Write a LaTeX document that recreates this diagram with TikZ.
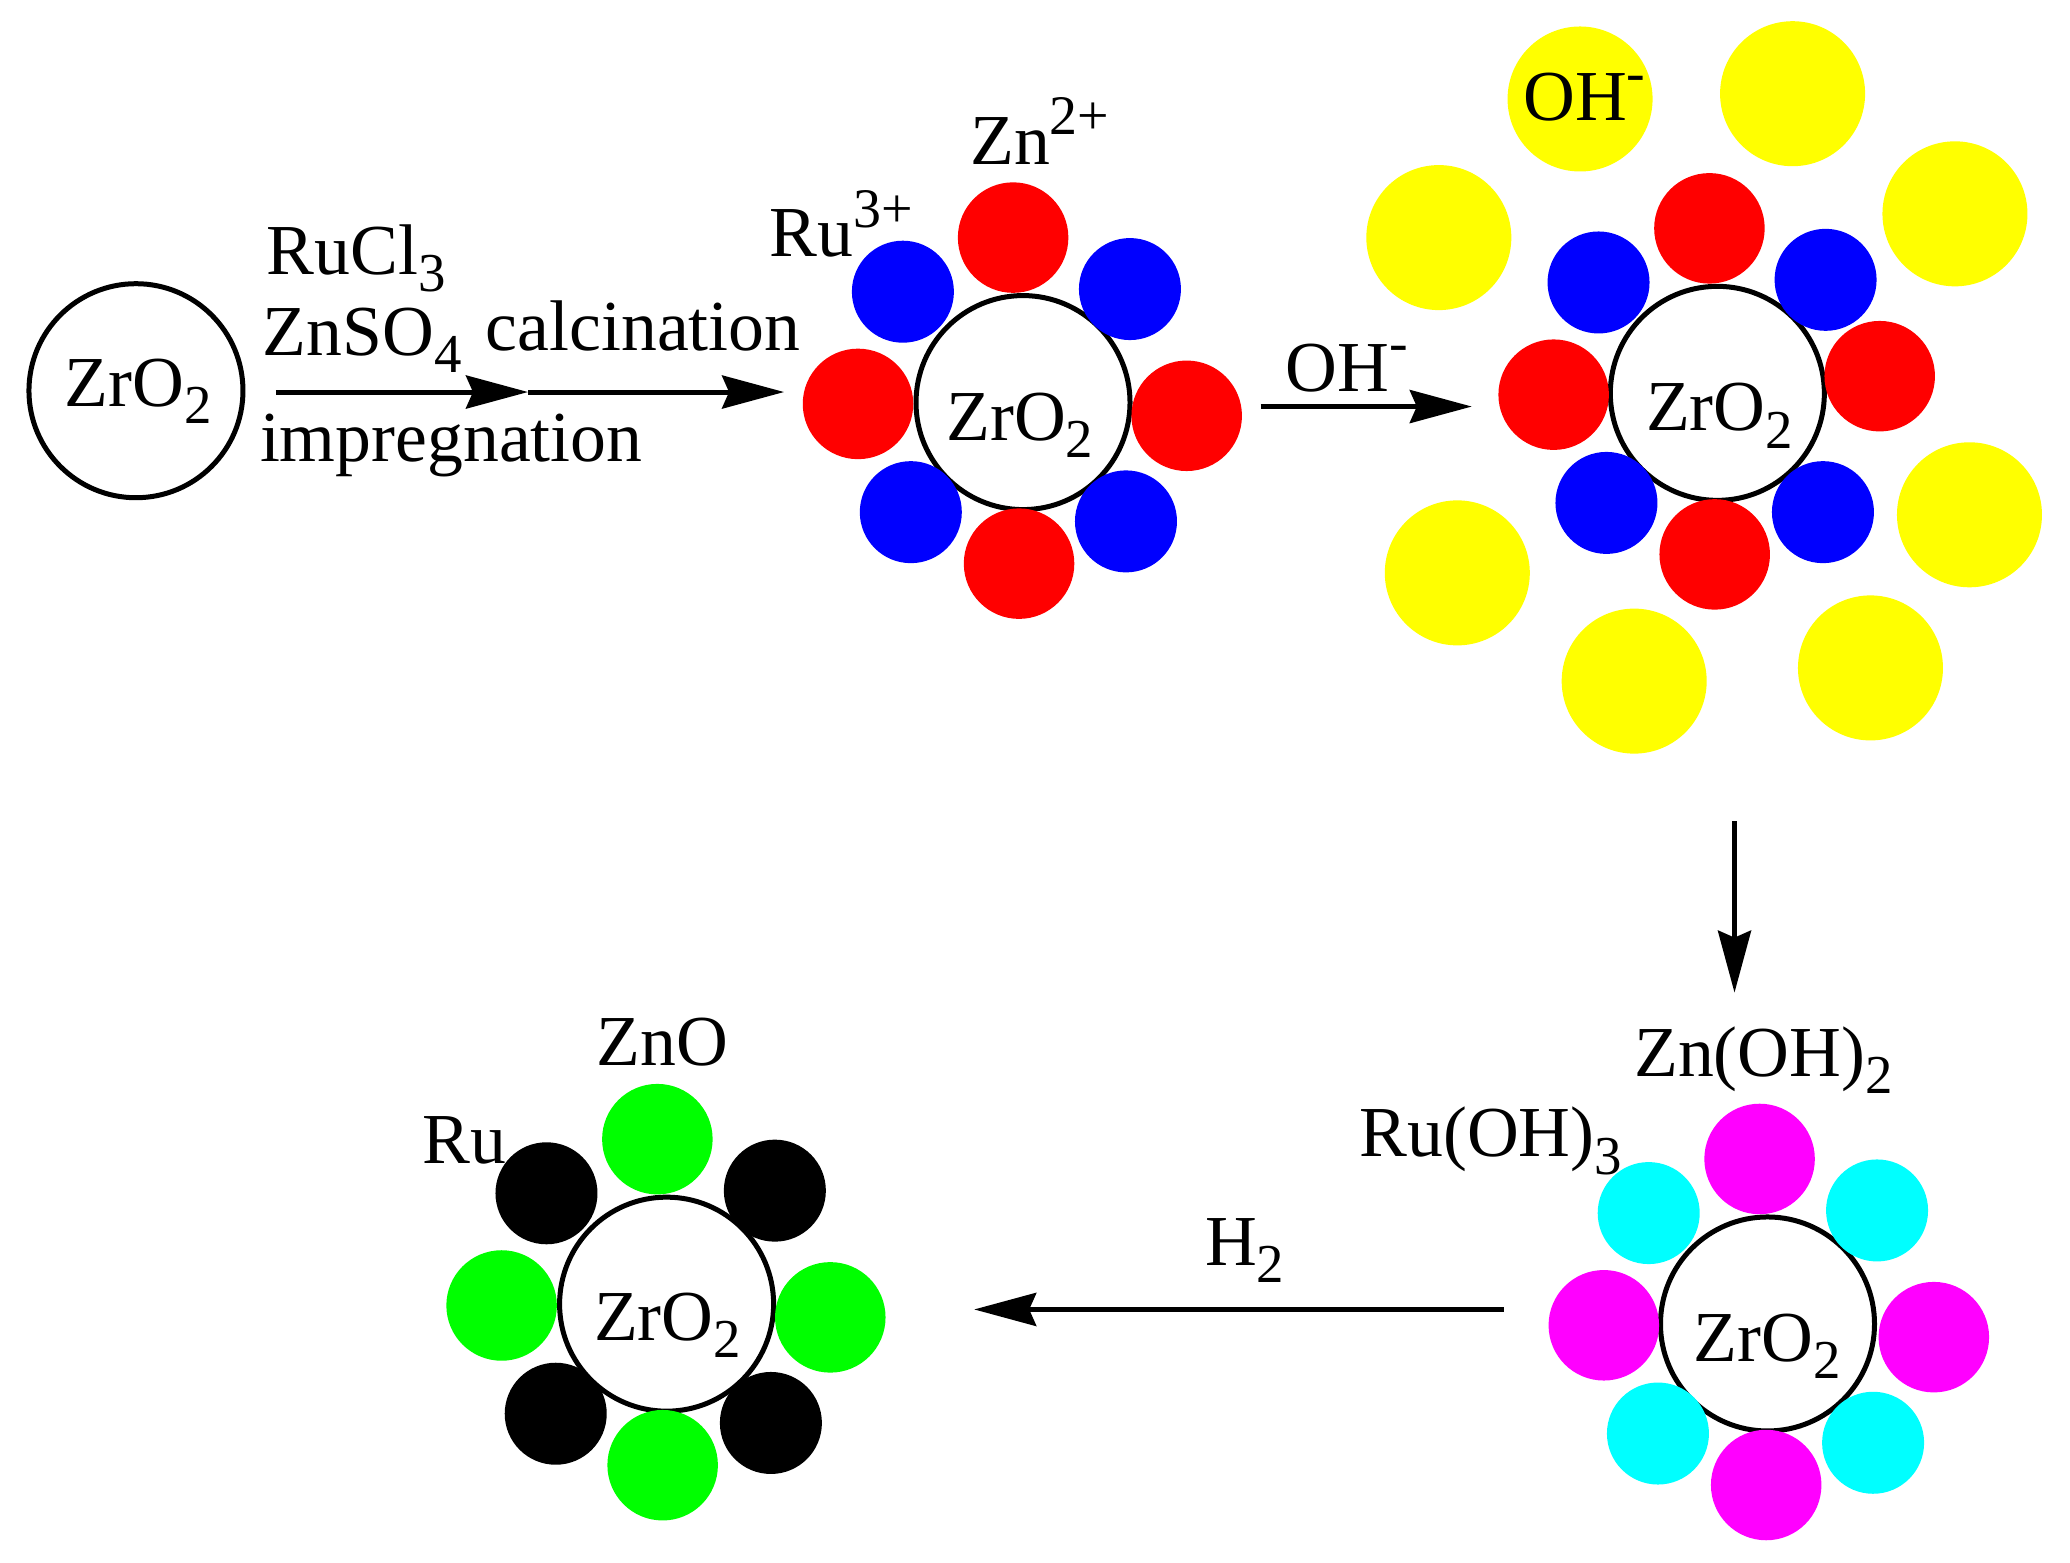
\documentclass[tikz,border=0pt]{standalone}
\usepackage{fontspec}
\setmainfont{Liberation Serif}
\usetikzlibrary{arrows.meta}
\newcommand{\sbsc}[1]{\raisebox{-.24em}{\fontsize{15.6pt}{16pt}\selectfont #1}}
\newcommand{\spsc}[1]{\raisebox{.41em}{\fontsize{15.9pt}{16pt}\selectfont #1}}
\newcommand{\zro}{ZrO\sbsc{2}}
\definecolor{magenta}{RGB}{255,0,255}
\definecolor{cyan}{RGB}{0,255,255}
\definecolor{green}{RGB}{0,255,0}
\definecolor{yellow}{RGB}{255,255,0}
\tikzset{
  core/.style={circle,draw=black,line width=.5mm,fill=white,minimum size=2.14cm,inner sep=0pt},
  bead/.style={circle,inner sep=0pt,minimum size=1.105cm},
  smallbead/.style={circle,inner sep=0pt,minimum size=1.02cm},
  redb/.style={bead,fill=red},
  blueb/.style={smallbead,fill=blue},
  yell/.style={circle,inner sep=0pt,minimum size=1.45cm,fill=yellow},
  magb/.style={bead,fill=magenta},
  cyab/.style={smallbead,fill=cyan},
  greb/.style={bead,fill=green},
  blab/.style={smallbead,fill=black},
  txt/.style={anchor=base west,inner sep=0pt,outer sep=0pt,font=\fontsize{20.4pt}{24pt}\selectfont},
  arr/.style={line width=.5mm,-{Stealth[length=6.2mm,width=3.3mm,inset=.7mm]}}
}
\begin{document}
\begin{tikzpicture}[x=0.0132cm,y=-0.0132cm]
\useasboundingbox (0,0) rectangle (1568.18,1184.09);
% cores
\node[core] (c1) at (103,296) {};
\node[core] (c2) at (775,305) {};
\node[core] (c3) at (1301,298) {};
\node[core] (c4) at (1339,1003) {};
\node[core] (c5) at (505,988) {};
% group 2
\node[redb] (r2a) at (767.5,180) {};
\node[redb] (r2b) at (650,306) {};
\node[redb] (r2c) at (899,315) {};
\node[redb] (r2d) at (772,427) {};
\node[blueb] (b2a) at (684,221) {};
\node[blueb] (b2b) at (856,219) {};
\node[blueb] (b2c) at (690,388) {};
\node[blueb] (b2d) at (853,395) {};
% group 3
\node[redb] (r3a) at (1295,173) {};
\node[redb] (r3b) at (1177,299) {};
\node[redb] (r3c) at (1424,285) {};
\node[redb] (r3d) at (1299,420) {};
\node[blueb] (b3a) at (1211,214) {};
\node[blueb] (b3b) at (1383,212) {};
\node[blueb] (b3c) at (1217,381) {};
\node[blueb] (b3d) at (1381,388) {};
\node[yell] (y1) at (1197,75) {};
\node[yell] (y2) at (1358,71) {};
\node[yell] (y3) at (1481,162) {};
\node[yell] (y4) at (1090,180) {};
\node[yell] (y5) at (1492,390) {};
\node[yell] (y6) at (1104,434) {};
\node[yell] (y7) at (1238,516) {};
\node[yell] (y8) at (1417,506) {};
% group 4
\node[magb] (m1) at (1333,878) {};
\node[magb] (m2) at (1215,1004) {};
\node[magb] (m3) at (1465,1013) {};
\node[magb] (m4) at (1338,1125) {};
\node[cyab] (k1) at (1249,919) {};
\node[cyab] (k2) at (1422,917) {};
\node[cyab] (k3) at (1256,1086) {};
\node[cyab] (k4) at (1419,1093) {};
% group 5
\node[greb] (g1) at (498,863) {};
\node[greb] (g2) at (380,989) {};
\node[greb] (g3) at (629,998) {};
\node[greb] (g4) at (502,1110) {};
\node[blab] (n1) at (414,904) {};
\node[blab] (n2) at (587,902) {};
\node[blab] (n3) at (421,1071) {};
\node[blab] (n4) at (584,1078) {};
% text
\node[txt] (t1) at (49,308) {\zro};
\node[txt] (t2) at (717,333.5) {\zro};
\node[txt] (t3) at (1247,326.5) {\zro};
\node[txt] (t4) at (1283,1031.5) {\zro};
\node[txt] (t5) at (450,1015.5) {\zro};
\node[txt] (t6) at (202,208) {RuCl\sbsc{3}};
\node[txt] (t7) at (199,269.5) {ZnSO\sbsc{4}};
\node[txt] (t8) at (368,265.5) {calcination};
\node[txt] (t9) at (197,349.5) {impregnation};
\node[txt] (t10) at (583,194.5) {Ru\spsc{3+}};
\node[txt] (t11) at (735,124.5) {Zn\spsc{2+}};
\node[txt] (t12) at (1154,91.5) {OH\spsc{-}};
\node[txt] (t13) at (974,296.5) {OH\spsc{-}};
\node[txt] (t14) at (1238,815.5) {Zn(OH)\sbsc{2}};
\node[txt] (t15) at (1030,876.5) {Ru(OH)\sbsc{3}};
\node[txt] (t16) at (913,958.5) {H\sbsc{2}};
\node[txt] (t17) at (452,807.5) {ZnO};
\node[txt] (t18) at (320,881.5) {Ru};
% arrows
\coordinate (a0) at (209,297);
\coordinate (a1) at (400,297);
\coordinate (a2) at (594,297);
\coordinate (a3) at (955,308);
\coordinate (a4) at (1115,308);
\coordinate (a5) at (1314,622);
\coordinate (a6) at (1314,752);
\coordinate (a7) at (1139,992);
\coordinate (a8) at (738,992);
\draw[arr] (a0) -- (a1);
\draw[arr] (a1) -- (a2);
\draw[arr] (a3) -- (a4);
\draw[arr] (a5) -- (a6);
\draw[arr] (a7) -- (a8);
\end{tikzpicture}
\end{document}
